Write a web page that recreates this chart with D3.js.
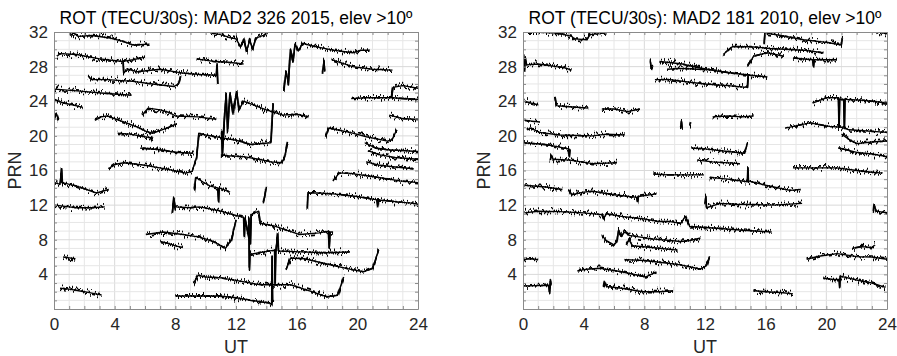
<!DOCTYPE html>
<html>
<head>
<meta charset="utf-8">
<script src="https://cdn.jsdelivr.net/npm/d3@7"></script>
<style>
	body { margin: 0; background: #fff; }
	text { font-family: "Liberation Sans", Arial, Helvetica, sans-serif; }
</style>
</head>
<body>
<div id="chart"></div>
<script>
// tick labels
var utTicks = [0, 4, 8, 12, 16, 20, 24];
var prnTicks = [4, 8, 12, 16, 20, 24, 28, 32];
var titles = ['ROT (TECU/30s): MAD2 326 2015, elev >10º', 'ROT (TECU/30s): MAD2 181 2010, elev >10º'];

// each pass = list of [UT hour, PRN + ROT]
var rot2015 = [
	[[1.05,31.6],[1.3,31.9],[1.6,31.5],[2.5,31.6],[3.7,31.3],[4.6,30.9],[5.2,30.5],[6.3,30.6]],
	[[0.2,29.2],[0.4,29.5],[1.5,29.4],[3.0,28.9],[4.55,28.6],[5.2,28.8],[6.0,29.1]],
	[[4.55,28.7],[4.6,27.3],[4.9,27.7],[5.5,27.4],[7.0,27.7],[8.3,27.3],[9.5,27.1],[10.7,27.0],[10.75,28.2],[10.8,26.0]],
	[[2.25,26.9],[2.5,26.5],[3.5,26.5],[5.2,26.3],[6.5,26.0],[7.9,25.7],[8.2,26.0],[8.35,26.9]],
	[[0.05,25.4],[1.5,25.2],[3.5,24.9],[5.1,24.7]],
	[[0.05,24.2],[0.6,23.8],[1.2,23.6],[1.9,23.3]],
	[[0.0,21.9],[0.15,22.6],[0.3,21.8]],
	[[2.7,21.8],[3.1,22.2],[3.5,22.3],[4.6,21.6],[5.5,21.0],[6.1,20.5],[6.5,20.3],[7.3,20.8],[8.1,21.4]],
	[[4.2,20.3],[5.0,20.2],[6.0,19.9],[6.4,19.8],[6.5,19.4]],
	[[5.8,22.4],[6.2,23.2],[7.0,23.0],[7.6,22.7],[8.0,22.3],[9.5,22.2],[10.7,21.9]],
	[[5.7,18.6],[7.0,18.4],[8.0,18.1],[9.1,18.0],[9.2,18.3]],
	[[3.6,16.2],[4.0,16.7],[4.6,16.9],[6.0,16.6],[7.6,16.1],[8.7,15.7],[9.1,15.9],[9.4,17.5],[9.55,20.3],[10.0,20.1],[11.0,19.8],[12.0,19.5],[13.0,19.0],[14.3,19.2],[14.45,23.8]],
	[[11.05,20.5],[11.1,17.8],[11.2,21.0],[11.35,24.8],[11.45,20.5],[11.6,25.0],[11.8,22.5],[12.05,25.1],[12.2,23.0],[12.5,24.0],[13.1,23.6],[14.0,23.0],[15.1,22.4],[16.0,22.5],[16.8,22.2]],
	[[11.0,17.8],[11.5,17.7],[12.5,17.6],[13.5,17.3],[14.3,17.0],[15.0,16.9],[15.2,17.5],[15.4,19.3]],
	[[10.3,31.9],[11.0,31.7],[11.5,31.4],[12.0,31.2],[12.3,30.3],[12.5,31.2],[12.7,29.8],[12.9,31.0],[13.1,30.0],[13.3,31.3],[13.8,31.6],[14.1,31.9]],
	[[9.4,28.9],[10.5,28.6],[11.5,28.5],[12.5,28.3]],
	[[15.15,25.3],[15.3,27.5],[15.45,26.0],[15.6,30.0],[15.75,28.5],[15.9,30.6],[16.1,29.8],[16.4,30.7],[17.0,30.4],[18.4,29.9],[19.7,29.6],[20.3,29.9],[20.8,29.9]],
	[[18.3,28.8],[19.0,28.4],[19.7,28.0],[21.0,27.7],[22.3,27.6]],
	[[17.7,27.2],[17.8,28.6],[17.85,27.4]],
	[[19.6,24.3],[20.5,24.4],[22.3,24.4],[24,24.2]],
	[[22.25,24.4],[22.35,25.6],[23.0,25.8],[24,25.5]],
	[[22.1,22.4],[23.0,22.0],[24,21.9]],
	[[17.9,19.9],[18.1,20.9],[18.4,20.8],[19.5,20.4],[20.6,19.9],[22.0,19.4],[22.3,19.6],[22.6,20.7]],
	[[20.5,19.2],[21.2,18.6],[22.0,18.4],[24,18.2]],
	[[20.7,18.3],[21.5,17.8],[22.5,17.5],[24,17.3]],
	[[20.6,17.0],[21.5,16.6],[22.5,16.4],[23.7,16.2]],
	[[18.4,14.8],[18.8,15.7],[19.4,15.7],[21.0,15.3],[22.8,14.8],[24,14.6]],
	[[0.05,14.6],[0.4,14.4],[0.5,16.1],[0.55,14.6],[1.5,14.2],[2.8,13.4],[3.6,13.8]],
	[[0.05,12.0],[1.0,11.8],[1.5,11.7],[2.5,11.7],[3.35,11.8]],
	[[7.8,11.1],[7.9,12.8],[8.0,11.8],[9.0,11.7],[9.6,11.8],[11.0,11.3],[12.0,10.8],[12.5,10.6],[12.55,8.5],[12.6,10.4],[12.95,7.5],[13.0,10.9],[13.5,11.3],[13.6,9.9],[14.5,9.6],[16.2,8.6],[17.5,8.8],[18.1,9.0],[18.15,7.0],[18.2,8.9],[18.4,8.9]],
	[[6.06,8.6],[7.2,8.9],[8.5,8.6],[9.6,8.3],[10.5,7.8],[11.3,7.0],[11.7,8.0],[12.0,10.3]],
	[[7.0,7.8],[7.5,7.6],[8.0,7.3],[8.5,7.1]],
	[[12.85,10.6],[12.88,4.5],[12.92,6.3],[13.5,6.5],[14.55,6.8],[14.58,3.0],[14.62,6.5],[14.75,8.7],[14.8,6.7],[16.2,6.6],[18.0,6.5],[19.5,6.6]],
	[[15.3,4.5],[15.6,5.9],[16.5,5.8],[17.5,5.4],[18.5,5.0],[19.5,4.6],[20.4,4.3],[21.0,4.7],[21.4,6.8]],
	[[9.2,3.0],[9.5,3.9],[10.0,3.7],[11.0,3.6],[12.0,3.3],[13.6,2.8],[15.6,2.8],[17.0,2.0],[18.0,1.4],[18.7,1.6],[19.1,3.7]],
	[[8.0,1.5],[9.0,1.5],[10.9,1.5],[12.0,1.3],[13.0,1.0],[14.2,0.7],[14.36,0.5],[14.38,6.0],[14.41,0.9],[14.5,1.0]],
	[[0.6,6.0],[1.0,5.9],[1.4,5.8]],
	[[0.4,2.4],[1.0,2.3],[2.0,2.0],[3.15,1.6]],
	[[9.25,13.8],[9.35,15.2],[9.8,14.7],[10.3,14.2],[10.8,14.0],[10.85,12.4],[10.9,14.0],[11.6,13.5]],
	[[13.8,12.2],[14.0,14.1]],
	[[16.7,11.7],[16.75,13.4],[17.5,13.4],[18.4,13.3],[20.0,13.0],[21.3,12.6],[21.35,11.8],[21.4,12.6],[22.5,12.4],[23.7,12.2],[24,12.1]]
];

var rot2010 = [
	[[0.3,32],[1.0,32],[1.8,31.9],[2.5,31.8],[3.2,31.5],[3.4,31.2],[4.2,31.1],[4.4,31.7],[5.5,31.9]],
	[[0.1,27.4],[0.15,29.0],[0.25,28.2],[1.0,28.3],[2.2,28.0],[2.7,27.9],[3.2,27.6]],
	[[0.1,24.0],[0.5,23.8],[1.0,23.6]],
	[[2.1,24.5],[2.2,23.5],[2.8,23.4],[3.5,23.3],[4.3,23.2]],
	[[5.2,23.1],[6.0,23.1],[6.9,22.8],[7.7,23.1]],
	[[0.1,21.8],[0.6,21.7],[1.1,21.6]],
	[[0.25,20.7],[0.5,20.9],[1.1,20.4],[2.4,20.1],[4.6,20.0],[5.5,20.2],[6.7,20.1]],
	[[0,19.2],[1.5,19.0],[3.0,18.5],[3.05,17.6],[3.1,18.5]],
	[[1.8,17.2],[1.85,17.8],[2.0,17.3],[3.1,17.2],[4.6,16.8],[6.2,16.9]],
	[[8.6,15.6],[9.5,15.5],[10.5,15.5],[11.9,15.5]],
	[[0.1,14.3],[1.5,14.1],[2.6,13.8]],
	[[3.0,13.8],[3.2,13.2],[4.0,13.5],[4.6,13.6],[6.0,13.2],[7.5,12.9],[7.55,12.4],[7.6,13.0],[8.8,13.3]],
	[[0.1,11.1],[1.0,11.3],[2.4,11.25],[4.0,11.1],[5.2,10.9],[5.3,10.4],[5.5,11.0],[6.5,10.7],[8.0,10.4],[9.0,10.1],[9.7,10.1],[10.4,9.9],[10.7,10.7],[11.0,9.5],[11.3,9.5],[13.0,9.3],[14.5,9.1],[16.4,8.9]],
	[[5.2,8.5],[5.5,7.9],[6.0,7.4],[6.2,7.8],[6.3,9.1],[6.5,8.4],[6.7,8.9],[7.0,8.5],[8.5,8.1],[10.4,7.8],[11.0,7.9],[11.7,8.2]],
	[[6.8,7.4],[7.0,8.0],[7.2,7.3],[8.5,7.1],[10.2,6.8]],
	[[6.7,5.7],[8.0,5.6],[9.0,5.4],[10.4,5.1],[11.2,4.8],[11.7,4.6],[12.1,5.0],[12.3,6.1]],
	[[0,5.7],[0.5,5.8],[1.0,5.7]],
	[[3.6,4.4],[4.2,4.6],[5.1,4.7],[6.5,4.3],[8.1,3.7],[8.8,4.3]],
	[[0,2.65],[1.0,2.7],[1.7,2.75],[1.75,1.9],[1.8,3.4],[1.85,2.7]],
	[[5.3,2.65],[5.35,3.2],[5.5,2.6],[6.5,2.4],[7.9,2.0],[9.0,2.0],[9.9,2.1]],
	[[8.4,28.6],[8.45,27.8],[8.55,28.2]],
	[[9.0,28.6],[9.5,28.5],[10.5,28.3],[11.5,27.9],[12.8,27.5],[14.0,27.2],[16.1,26.8]],
	[[9.5,27.7],[10.5,27.8],[11.5,27.7],[12.8,27.6]],
	[[8.7,26.5],[9.7,26.5],[11.0,26.2],[12.0,26.0],[13.5,25.8],[14.8,25.6],[14.85,26.9]],
	[[13.2,29.4],[13.8,30.3],[15.0,30.3],[16.3,30.1],[18.5,29.9],[19.8,29.6]],
	[[14.8,28.0],[15.2,29.2],[16.1,29.6],[17.2,29.2]],
	[[17.8,29.0],[19.1,28.8],[19.15,28.0],[19.2,28.8],[20.7,28.8]],
	[[15.9,30.7],[15.95,31.9],[17.0,31.6],[18.5,31.1],[20.0,30.8],[21.0,30.5],[21.05,31.2]],
	[[23.3,31.8],[23.5,32],[24,31.8]],
	[[12.5,22.2],[13.5,22.3],[14.5,22.2],[15.2,22.3]],
	[[10.4,21.0],[10.45,21.7],[10.5,20.8]],
	[[11.0,21.2],[11.05,21.6]],
	[[11.1,18.6],[12.0,18.5],[13.5,18.2],[14.6,18.0],[14.8,19.2]],
	[[11.5,17.2],[12.5,17.0],[14.3,16.8]],
	[[17.8,16.3],[19.0,16.3],[20.7,16.3],[22.0,16.0],[23.0,15.8],[23.7,15.7]],
	[[19.1,23.8],[20.0,24.4],[20.8,24.4],[20.84,21.0],[20.88,24.2],[21.15,24.2],[21.19,20.9],[21.23,24.3],[21.4,24.2],[22.5,24.1],[24,23.8]],
	[[17.3,20.9],[18.9,21.5],[20.2,21.1],[21.0,21.0],[21.5,20.7],[24,20.4]],
	[[21.0,20.2],[21.5,19.6],[22.0,19.1],[23.0,19.3],[24,19.4]],
	[[20.8,18.6],[21.3,18.4],[22.0,18.1],[23.0,17.9],[24,17.6]],
	[[12.3,15.2],[13.5,15.0],[14.8,14.7],[14.83,16.3],[14.86,14.8],[16.0,14.3],[17.6,13.7],[18.3,13.8]],
	[[12.0,12.2],[12.05,13.0],[12.1,11.7],[13.0,12.2],[14.1,12.1],[16.5,12.0],[18.4,12.2]],
	[[23.1,11.1],[23.15,12.0],[23.3,11.3],[24,11.1]],
	[[18.7,5.75],[19.5,6.1],[20.7,6.4],[21.5,6.2],[22.0,6.05],[23.0,6.0],[24,5.75]],
	[[21.7,7.0],[22.3,7.2],[23.0,7.1],[23.2,7.4]],
	[[19.8,3.55],[20.5,3.4],[20.85,3.4],[20.88,2.6],[20.92,3.8],[22.0,3.35],[23.0,3.0],[23.9,2.5]],
	[[15.2,2.1],[16.0,2.0],[17.0,1.9],[17.8,1.75]]
];

var W = 897, H = 356;
var PlotW = 364; // 24 h
var Top = 32, Bottom = 309;

var svg = d3.select('#chart').append('svg')
	.attr('width', W)
	.attr('height', H);
var defs = svg.append('defs');

// ROT noise look: jitter a copy of each trace up/down column by column
var flt = defs.append('filter')
	.attr('id', 'jit')
	.attr('filterUnits', 'userSpaceOnUse')
	.attr('x', 0).attr('y', 0).attr('width', W).attr('height', H)
	.attr('color-interpolation-filters', 'sRGB');
flt.append('feTurbulence')
	.attr('type', 'fractalNoise')
	.attr('baseFrequency', '0.7 0.04')
	.attr('numOctaves', 2)
	.attr('seed', 7)
	.attr('result', 'n');
flt.append('feColorMatrix')
	.attr('in', 'n')
	.attr('type', 'matrix')
	.attr('values', '0 0 0 0 0.5  0 1 0 0 0  0 0 1 0 0  0 0 0 0 1')
	.attr('result', 'm');
flt.append('feDisplacementMap')
	.attr('in', 'SourceGraphic')
	.attr('in2', 'm')
	.attr('scale', 12)
	.attr('xChannelSelector', 'R')
	.attr('yChannelSelector', 'G');

function StyleAxis(g)
{
	g.select('.domain').attr('stroke', '#8a8a8a');
	g.selectAll('.tick line').attr('stroke', '#8a8a8a');
	g.selectAll('.tick text')
		.attr('fill', '#262626')
		.style('font-size', '17px');
}

function DrawPanel(x0, traces, title, id)
{
	var x = d3.scaleLinear().domain([0, 24]).range([x0, x0 + PlotW]);
	var y = d3.scaleLinear().domain([0, 32]).range([Bottom, Top]);
	var g = svg.append('g');

	// grid, one line per hour and per PRN
	g.append('g').selectAll('line').data(d3.range(1, 24)).join('line')
		.attr('x1', function(d){ return x(d); })
		.attr('x2', function(d){ return x(d); })
		.attr('y1', y(0)).attr('y2', y(32))
		.attr('stroke', function(d){ return d % 4 == 0 ? '#d9d9d9' : '#e6e6e6'; });
	g.append('g').selectAll('line').data(d3.range(1, 32)).join('line')
		.attr('y1', function(d){ return y(d); })
		.attr('y2', function(d){ return y(d); })
		.attr('x1', x(0)).attr('x2', x(24))
		.attr('stroke', function(d){ return d % 4 == 0 ? '#d9d9d9' : '#e6e6e6'; });

	// traces: a solid core plus a jittered copy for the noise band
	defs.append('clipPath').attr('id', 'clip' + id)
		.append('rect')
		.attr('x', x(0)).attr('y', y(32))
		.attr('width', x(24) - x(0)).attr('height', y(0) - y(32));
	var line = d3.line()
		.x(function(d){ return x(d[0]); })
		.y(function(d){ return y(d[1]); });
	var tg = g.append('g').attr('clip-path', 'url(#clip' + id + ')');
	tg.append('g')
		.selectAll('path').data(traces).join('path')
		.attr('d', line)
		.attr('fill', 'none')
		.attr('stroke', '#000')
		.attr('stroke-width', 1.4)
		.attr('stroke-linejoin', 'round');
	tg.append('g').attr('filter', 'url(#jit)')
		.selectAll('path').data(traces).join('path')
		.attr('d', line)
		.attr('fill', 'none')
		.attr('stroke', '#000')
		.attr('stroke-width', 1.8)
		.attr('stroke-linejoin', 'round');

	// axes with inside ticks on all four sides
	var hrs = d3.range(0, 25), prns = d3.range(0, 33);
	var fx = function(d){ return utTicks.indexOf(d) >= 0 ? d : ''; };
	var fy = function(d){ return prnTicks.indexOf(d) >= 0 ? d : ''; };

	g.append('g').attr('transform', 'translate(0,' + y(0) + ')')
		.call(d3.axisBottom(x).tickValues(hrs).tickFormat(fx).tickSizeInner(-3).tickSizeOuter(0).tickPadding(9))
		.call(StyleAxis);
	g.append('g').attr('transform', 'translate(0,' + y(32) + ')')
		.call(d3.axisTop(x).tickValues(hrs).tickFormat('').tickSizeInner(-3).tickSizeOuter(0))
		.call(StyleAxis);
	g.append('g').attr('transform', 'translate(' + x(0) + ',0)')
		.call(d3.axisLeft(y).tickValues(prns).tickFormat(fy).tickSizeInner(-3).tickSizeOuter(0).tickPadding(6))
		.call(StyleAxis);
	g.append('g').attr('transform', 'translate(' + x(24) + ',0)')
		.call(d3.axisRight(y).tickValues(prns).tickFormat('').tickSizeInner(-3).tickSizeOuter(0))
		.call(StyleAxis);

	// labels
	g.append('text')
		.attr('x', (x(0) + x(24)) / 2).attr('y', 23.5)
		.attr('text-anchor', 'middle')
		.attr('fill', '#000')
		.style('font-size', '17.5px')
		.text(title);
	g.append('text')
		.attr('x', (x(0) + x(24)) / 2).attr('y', 353)
		.attr('text-anchor', 'middle')
		.attr('fill', '#262626')
		.style('font-size', '18px')
		.text('UT');
	g.append('text')
		.attr('transform', 'translate(' + (x(0) - 33) + ',' + ((Top + Bottom) / 2) + ') rotate(-90)')
		.attr('text-anchor', 'middle')
		.attr('fill', '#262626')
		.style('font-size', '18px')
		.text('PRN');
}

DrawPanel(54, rot2015, titles[0], 'a');
DrawPanel(523, rot2010, titles[1], 'b');
</script>
</body>
</html>
